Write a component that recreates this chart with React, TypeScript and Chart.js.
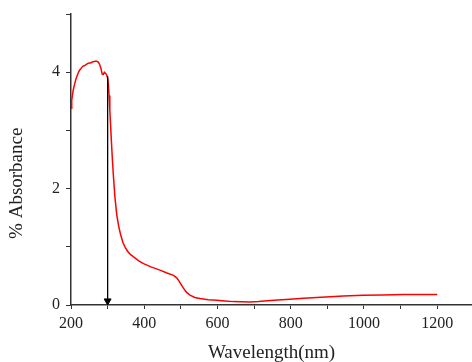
import React, { useEffect, useRef } from "react";
import { Chart, registerables } from "chart.js";

Chart.register(...registerables);

const wavelength = [
  200, 202, 206, 210, 214, 218, 223, 228, 232, 236, 241, 246, 250, 254, 257, 261, 266, 270, 273, 276, 279, 282,
  285, 288, 291, 294, 297, 300, 302, 304, 306, 308, 310, 313, 316, 320, 325, 330, 335, 342, 348, 355, 362, 370,
  385, 398, 420, 443, 462, 480, 488, 493, 500, 507, 515, 525, 538, 552, 575, 598, 620, 643, 665, 689, 712, 735,
  765, 798, 835, 871, 908, 944, 998, 1050, 1108, 1150, 1200,
];
const absorbance = [
  3.38, 3.52, 3.69, 3.8, 3.89, 3.96, 4.03, 4.07, 4.1, 4.11, 4.13, 4.15, 4.16, 4.16, 4.17, 4.18, 4.19, 4.19, 4.18,
  4.16, 4.12, 4.06, 3.97, 3.96, 4.0, 3.98, 3.96, 3.9, 3.8, 3.6, 3.35, 3.1, 2.85, 2.5, 2.2, 1.85, 1.55, 1.36, 1.22,
  1.07, 0.99, 0.92, 0.87, 0.83, 0.76, 0.71, 0.65, 0.6, 0.55, 0.51, 0.47, 0.43, 0.36, 0.29, 0.22, 0.17, 0.13, 0.11,
  0.09, 0.08, 0.068, 0.058, 0.054, 0.051, 0.06, 0.074, 0.085, 0.1, 0.115, 0.13, 0.143, 0.154, 0.166, 0.172, 0.18,
  0.18, 0.18,
];
const arrowX = [300, 300];
const arrowY = [3.93, 0.07];
const xTicks = [200, 300, 400, 500, 600, 700, 800, 900, 1000, 1100, 1200];
const yTicks = [0, 1, 2, 3, 4, 5];
const xTitle = "Wavelength(nm)";
const yTitle = "% Absorbance";

export default function App() {
  const ref = useRef<HTMLCanvasElement | null>(null);

  useEffect(() => {
    document.body.style.margin = "0";
    const canvas = ref.current;
    if (!canvas) return;
    const axisColor = "#333333";
    const font = { family: "'Liberation Serif', 'Times New Roman', serif", size: 16 };
    const chart = new Chart(canvas, {
      type: "line",
      data: {
        datasets: [
          {
            data: wavelength.map((x, i) => ({ x, y: absorbance[i] })),
            borderColor: "#ff0000",
            borderWidth: 1.5,
            pointRadius: 0,
            pointHoverRadius: 0,
            tension: 0,
            fill: false,
            order: 1,
          },
          {
            data: arrowX.map((x, i) => ({ x, y: arrowY[i] })),
            borderColor: "#000000",
            backgroundColor: "#000000",
            borderWidth: 1,
            pointRadius: [0, 4],
            pointHoverRadius: 0,
            pointStyle: "triangle",
            rotation: 180,
            fill: false,
            order: 0,
          },
        ],
      },
      options: {
        animation: false,
        responsive: false,
        maintainAspectRatio: false,
        layout: { autoPadding: false, padding: { top: 14, right: 0, left: 0, bottom: 0 } },
        plugins: { legend: { display: false }, tooltip: { enabled: false } },
        scales: {
          x: {
            type: "linear",
            min: 200,
            max: 1295,
            afterBuildTicks: (s: any) => {
              s.ticks = xTicks.map((v) => ({ value: v }));
            },
            afterFit: (s: any) => {
              s.height = 57;
              s.paddingRight = 0;
              s.paddingLeft = 0;
            },
            border: { display: true, color: axisColor, width: 1.5 },
            grid: { drawOnChartArea: false, drawTicks: true, tickLength: 4, color: axisColor, lineWidth: 1 },
            ticks: {
              autoSkip: false,
              maxRotation: 0,
              padding: 5,
              color: "#222222",
              font,
              callback: (v: any) => (Number(v) % 200 === 0 ? String(v) : ""),
            },
            title: {
              display: true,
              text: xTitle,
              color: "#222222",
              font: { family: font.family, size: 19 },
              padding: { top: 0, bottom: -2 },
            },
          },
          y: {
            type: "linear",
            min: 0,
            max: 5,
            afterBuildTicks: (s: any) => {
              s.ticks = yTicks.map((v) => ({ value: v }));
            },
            afterFit: (s: any) => {
              s.width = 71;
              s.paddingTop = 0;
              s.paddingBottom = 0;
            },
            border: { display: true, color: axisColor, width: 1.5 },
            grid: { drawOnChartArea: false, drawTicks: true, tickLength: 5, color: axisColor, lineWidth: 1 },
            ticks: {
              autoSkip: false,
              padding: 6,
              color: "#222222",
              font,
              callback: (v: any) => (Number(v) % 2 === 0 ? String(v) : ""),
            },
            title: {
              display: true,
              text: yTitle + "\u00a0".repeat(10),
              color: "#222222",
              font: { family: font.family, size: 19 },
              padding: { top: 6, bottom: 0 },
            },
          },
        },
      },
    });
    return () => chart.destroy();
  }, []);

  return (
    <div style={{ width: 472, height: 362 }}>
      <canvas ref={ref} width={472} height={362} style={{ display: "block", width: 472, height: 362 }} />
    </div>
  );
}
